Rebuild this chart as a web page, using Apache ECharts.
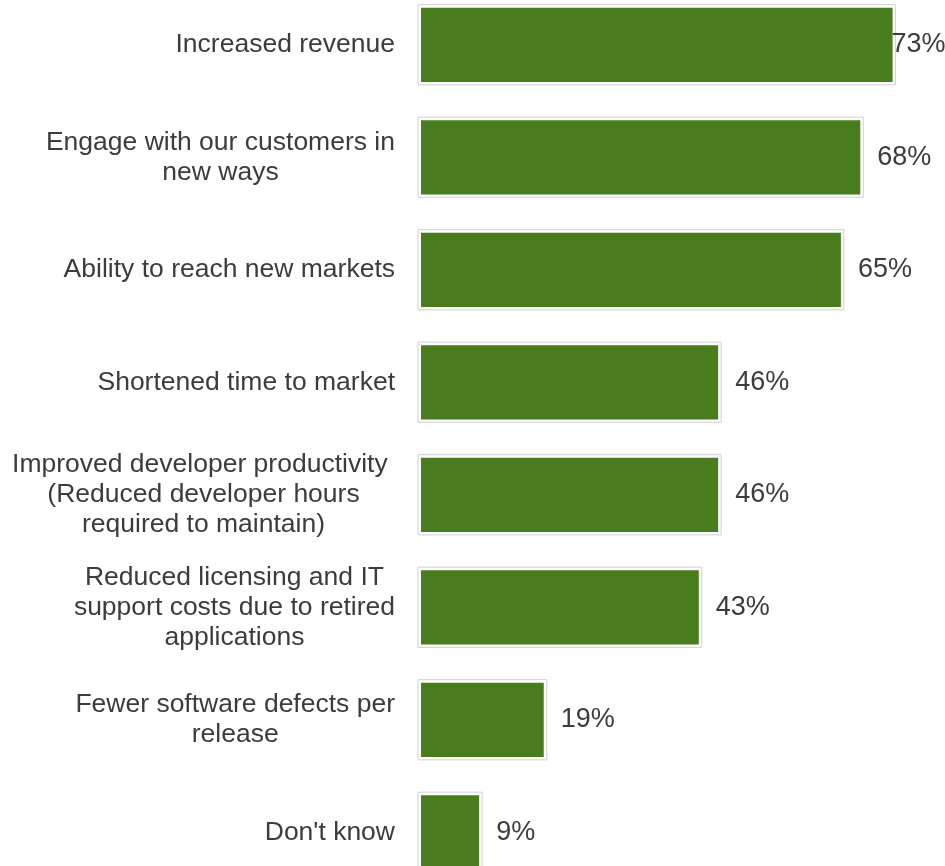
<!DOCTYPE html>
<html>
<head>
<meta charset="utf-8">
<style>
  html, body { margin: 0; padding: 0; background: #ffffff; }
  #chart { width: 945px; height: 866px; }
</style>
<script src="https://cdn.jsdelivr.net/npm/echarts@6/dist/echarts.min.js"></script>
</head>
<body>
<div id="chart"></div>
<script>
// Survey answers (percent of respondents), top to bottom
const categories = [
  "Increased revenue",
  "Engage with our customers in\nnew ways",
  "Ability to reach new markets",
  "Shortened time to market",
  "Improved developer productivity \n(Reduced developer hours\nrequired to maintain)",
  "Reduced licensing and IT\nsupport costs due to retired\napplications",
  "Fewer software defects per\nrelease",
  "Don't know"
];
const values = [73, 68, 65, 46, 46, 43, 19, 9];

const FONT = "'Liberation Sans', Arial, sans-serif";
const TEXT = '#3c3c3c';
const GREEN = '#487c1c';
const BAR_FRACTION = 0.66;

const chart = echarts.init(document.getElementById('chart'), null, { renderer: 'canvas' });

chart.setOption({
  backgroundColor: '#ffffff',
  animation: false,
  grid: {
    left: 421, right: -122, top: -11.5, bottom: -22.5,
    containLabel: false,
    outerBoundsMode: 'none'
  },
  xAxis: {
    type: 'value', min: 0, max: 100, show: false
  },
  yAxis: {
    type: 'category',
    inverse: true,
    data: categories,
    axisLine: { show: false },
    axisTick: { show: false },
    splitLine: { show: false },
    axisLabel: {
      margin: 26,
      align: 'right',
      formatter: v => v.split('\n').map(l => '{c|' + l + '}').join('\n'),
      rich: {
        c: {
          align: 'center',
          fontSize: 26.5,
          lineHeight: 30,
          fontFamily: FONT,
          color: TEXT
        }
      }
    }
  },
  series: [
    {
      // light frame with a white gap around each bar
      type: 'custom',
      z: 1,
      silent: true,
      data: values.map((v, i) => [v, i]),
      renderItem: (params, api) => {
        const start = api.coord([0, api.value(1)]);
        const end = api.coord([api.value(0), api.value(1)]);
        const h = api.size([0, 1])[1] * BAR_FRACTION;
        const pad = 3;
        return {
          type: 'rect',
          shape: {
            x: start[0] - pad,
            y: start[1] - h / 2 - pad,
            width: end[0] - start[0] + pad * 2,
            height: h + pad * 2
          },
          style: { fill: '#ffffff', stroke: '#d0d0d0', lineWidth: 1 }
        };
      }
    },
    {
      type: 'bar',
      z: 2,
      barWidth: (BAR_FRACTION * 100) + '%',
      itemStyle: { color: GREEN },
      label: {
        show: true,
        position: 'right',
        distance: 17,
        formatter: '{c}%',
        fontSize: 27,
        fontFamily: FONT,
        color: TEXT
      },
      data: values.map((v, i) => i === 0
        ? { value: v, label: { offset: [-18, 0] } }
        : v)
    }
  ]
});
</script>
</body>
</html>
